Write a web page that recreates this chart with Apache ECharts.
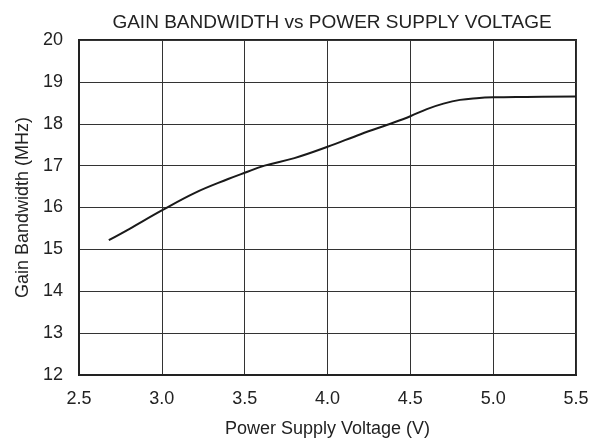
<!DOCTYPE html>
<html>
<head>
<meta charset="utf-8">
<script src="https://cdn.jsdelivr.net/npm/echarts@6/dist/echarts.min.js"></script>
<style>
  html, body { margin: 0; padding: 0; background: #fff; }
  #chart { width: 601px; height: 446px; }
</style>
</head>
<body>
<div id="chart"></div>
<script>
// supply voltage (V) and gain bandwidth (MHz)
var voltage = [2.68, 2.8, 3.0, 3.2, 3.4, 3.5, 3.62, 3.8, 4.0, 4.2, 4.4, 4.5, 4.6, 4.7, 4.8, 4.9, 5.0, 5.2, 5.5];
var gbw = [15.22, 15.48, 15.93, 16.35, 16.68, 16.83, 17.0, 17.18, 17.45, 17.75, 18.03, 18.18, 18.35, 18.48, 18.57, 18.61, 18.63, 18.64, 18.65];

var xTicks = [2.5, 5.5, 0.5];   // min, max, step
var yTicks = [12, 20, 1];

var chart = echarts.init(document.getElementById('chart'));
var font = 'Liberation Sans, Arial, sans-serif';

var option = {
  backgroundColor: '#fff',
  animation: false,
  title: {
    text: 'GAIN BANDWIDTH vs POWER SUPPLY VOLTAGE',
    left: 327,
    textAlign: 'center',
    top: 8,
    textStyle: { fontFamily: font, fontSize: 19, fontWeight: 'normal', color: '#222' }
  },
  grid: {
    left: 79, right: 25, top: 40, bottom: 71,
    show: true,
    borderColor: '#222',
    borderWidth: 2
  },
  xAxis: {
    type: 'value',
    min: xTicks[0], max: xTicks[1], interval: xTicks[2],
    name: 'Power Supply Voltage (V)',
    nameLocation: 'middle',
    nameGap: 45,
    nameTextStyle: { fontFamily: font, fontSize: 18, color: '#222' },
    axisLine: { show: true, lineStyle: { color: '#222', width: 2 } },
    axisTick: { show: false },
    axisLabel: {
      fontFamily: font, fontSize: 18, color: '#222', margin: 15,
      formatter: function (v) { return v.toFixed(1); }
    },
    splitLine: { show: true, lineStyle: { color: '#333', width: 1 } }
  },
  yAxis: {
    type: 'value',
    min: yTicks[0], max: yTicks[1], interval: yTicks[2],
    name: 'Gain Bandwidth (MHz)',
    nameLocation: 'middle',
    nameGap: 47,
    nameTextStyle: { fontFamily: font, fontSize: 18, color: '#222' },
    axisLine: { show: true, lineStyle: { color: '#222', width: 2 } },
    axisTick: { show: false },
    axisLabel: { fontFamily: font, fontSize: 18, color: '#222', margin: 16 },
    splitLine: { show: true, lineStyle: { color: '#333', width: 1 } }
  },
  series: [{
    type: 'line',
    data: voltage.map(function (v, i) { return [v, gbw[i]]; }),
    smooth: 0.4,
    showSymbol: false,
    lineStyle: { color: '#1a1a1a', width: 2 }
  }]
};

chart.setOption(option);
</script>
</body>
</html>
